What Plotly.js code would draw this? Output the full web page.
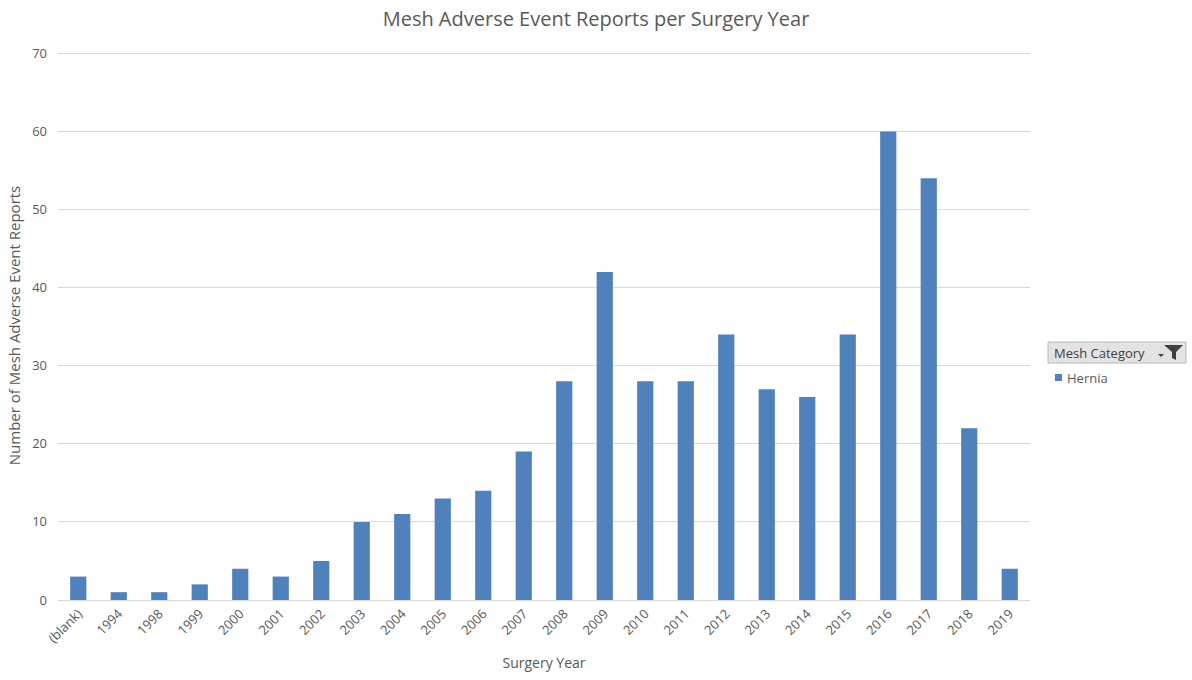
<!DOCTYPE html>
<html>
<head>
<meta charset="utf-8">
<script src="https://cdn.plot.ly/plotly-3.0.1.min.js"></script>
<style>html,body{margin:0;padding:0;background:#fff;}#chart{width:1192px;height:680px;}</style>
</head>
<body>
<div id="chart"></div>
<script>
const years = ["(blank)","1994","1998","1999","2000","2001","2002","2003","2004","2005","2006","2007","2008","2009","2010","2011","2012","2013","2014","2015","2016","2017","2018","2019"];
const hernia = [3,1,1,2,4,3,5,10,11,13,14,19,28,42,28,28,34,27,26,34,60,54,22,4];
const seriesName = "Hernia";
const yTicks = [0,10,20,30,40,50,60,70];

const font = "Open Sans, Noto Sans, sans-serif";
const grey = "#595959";
const barColor = "#4f81bd";

const trace = {
  type: "bar", x: years, y: hernia, name: seriesName,
  marker: {color: barColor}, showlegend: false, hoverinfo: "x+y"
};

const T = 51, B = 80;
function px(x){return (x-58)/972;}
function py(y){return (600-y)/(680-T-B);}

const layout = {
  width: 1192, height: 680,
  margin: {l: 58, r: 162, t: T, b: B},
  paper_bgcolor: "#fff", plot_bgcolor: "#fff",
  bargap: 0.6,
  font: {family: font, color: grey, size: 12},
  title: {text: "Mesh Adverse Event Reports per Surgery Year", font: {family: font, size: 20, color: grey}, x: 0.5, xanchor: "center", y: 0.972, yanchor: "middle"},
  xaxis: {
    type: "category", tickangle: -45, tickfont: {size: 13, color: grey},
    showgrid: false, showline: true, linecolor: "#d9d9d9", linewidth: 1, ticks: "",
    title: {text: "Surgery Year", font: {size: 14, color: grey}, standoff: 12},
    fixedrange: true
  },
  yaxis: {
    range: [0, 70.3], tickvals: yTicks, ticktext: yTicks.map(String),
    showgrid: true, gridcolor: "#d9d9d9", gridwidth: 1, zeroline: false,
    tickfont: {size: 13, color: grey}, ticks: "", ticklen: 0, ticklabelstandoff: 10,
    title: {text: "Number of Mesh Adverse Event Reports", font: {size: 15, color: grey}, standoff: 7},
    fixedrange: true
  },
  shapes: [
    {type: "rect", xref: "paper", yref: "paper", x0: px(1048), x1: px(1186), y0: py(363), y1: py(342), fillcolor: "#e3e3e3", line: {color: "#b8b8b8", width: 1}, layer: "above"},
    {type: "path", xref: "paper", yref: "paper", path: `M ${px(1164)} ${py(345)} L ${px(1183)} ${py(345)} L ${px(1176)} ${py(352)} L ${px(1176)} ${py(360)} L ${px(1172)} ${py(358)} L ${px(1172)} ${py(352)} Z`, fillcolor: "#404040", line: {width: 0}, layer: "above"},
    {type: "path", xref: "paper", yref: "paper", path: `M ${px(1158)} ${py(354)} L ${px(1164)} ${py(354)} L ${px(1161)} ${py(357)} Z`, fillcolor: "#404040", line: {width: 0}, layer: "above"},
    {type: "rect", xref: "paper", yref: "paper", x0: px(1055), x1: px(1062), y0: py(381), y1: py(374), fillcolor: barColor, line: {width: 0}, layer: "above"}
  ],
  annotations: [
    {text: "Mesh Category", xref: "paper", yref: "paper", x: px(1052), y: py(352.5), xanchor: "left", yanchor: "middle", showarrow: false, font: {size: 13, color: "#404040"}},
    {text: seriesName, xref: "paper", yref: "paper", x: px(1065), y: py(377.5), xanchor: "left", yanchor: "middle", showarrow: false, font: {size: 13, color: grey}}
  ]
};

Plotly.newPlot("chart", [trace], layout, {displayModeBar: false, staticPlot: true});
</script>
</body>
</html>
